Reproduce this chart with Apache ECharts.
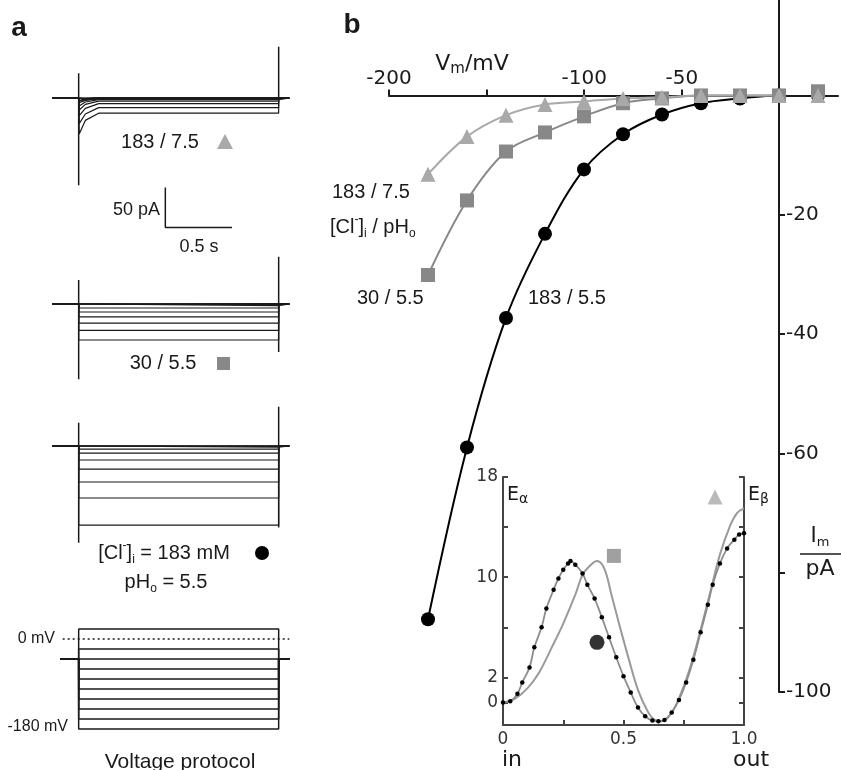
<!DOCTYPE html>
<html>
<head>
<meta charset="utf-8">
<script src="https://cdn.jsdelivr.net/npm/echarts@6/dist/echarts.min.js"></script>
<style>
  html, body { margin: 0; padding: 0; background: #fff; }
  #chart { width: 841px; height: 770px; }
</style>
</head>
<body>
<div id="chart"></div>
<script>
// ---- data ----

// test potentials (mV), same order for every array below
const voltages = [-180, -160, -140, -120, -100, -80, -60, -40, -20, 0, 20];

// panel b: steady-state current (pA) for [Cl-]i / pHo
const iv183_75 = [-13.2, -6.9, -3.3, -1.5, -1.0, -0.5, -0.3, 0, 0, 0, 0];
const iv30_55 = [-30.1, -17.6, -9.4, -6.2, -3.5, -1.3, -0.5, 0, 0, 0, 0.7];
const iv183_55 = [-87.8, -59, -37.3, -23.2, -12.4, -6.5, -3.2, -1.3, -0.5, 0, 0];

// panel a: current traces (pA), level during the pulse
const trace183_75 = [-19, -12, -7, -4, -2, -1, -0.5, 0, 0, 0, 0.5];
const onset183_75 = [-45, -32, -22, -15, -10, -6, -4, -3, -2, -1, 0];
const mid183_75 = [-28, -20, -13, -8, -5, -3, -2, -1.5, -1, -0.5, 0];
const trace30_55 = [-45, -33, -24, -16, -10, -5, -2, -0.5, 0, 0, 0.5];
const trace183_55 = [-99, -65, -45, -29, -17.5, -9, -4, -1.5, -0.5, 0, 0.3];

// capacitive transients: [on top, on bottom, off top, off bottom] (pA)
const spike183_75 = [31, -109, 64, -2];
const spike30_55 = [30, -94, 59, -60];
const spike183_55 = [29, -121, 49, -102];

// sweep timing (s): record start, pulse on, pulse off, record end
const sweepEdges = [-0.2, 0, 1.5, 1.58];
const timeOnset = [0.004, 0.05, 0.15];

// voltage protocol (mV)
const holdingPotential = -40;
const protocolSteps = [20, -20, -40, -60, -80, -100, -120, -140, -160, -180];
const holdingSpan = [-0.14, 1.58];

// scale bar
const scaleBarTime = 0.5;
const scaleBarCurrent = 50;

// inset: energy profiles across the pore (in -> out)
const profileDotX = [0, 0.03, 0.06, 0.08, 0.11, 0.13, 0.16, 0.18, 0.21, 0.23, 0.25, 0.27, 0.28, 0.30, 0.33, 0.35, 0.38, 0.41, 0.44, 0.47, 0.50, 0.53, 0.56, 0.59, 0.62, 0.645, 0.67, 0.70, 0.73, 0.76, 0.79, 0.82, 0.85, 0.87, 0.90, 0.93, 0.96, 0.98, 1.0];
const profileDotE = [0, 0.1, 0.7, 1.6, 2.8, 4.4, 6.0, 7.5, 9.0, 9.9, 10.6, 11.1, 11.3, 11.0, 10.3, 9.4, 8.3, 6.8, 5.2, 3.6, 2.1, 0.8, -0.4, -1.1, -1.45, -1.5, -1.4, -0.8, 0.2, 1.6, 3.4, 5.6, 7.8, 9.4, 11.1, 12.3, 13.0, 13.4, 13.5];
const profileLineX = [0, 0.05, 0.1, 0.15, 0.2, 0.25, 0.3, 0.33, 0.36, 0.39, 0.42, 0.45, 0.48, 0.52, 0.56, 0.6, 0.63, 0.66, 0.7, 0.74, 0.78, 0.82, 0.86, 0.9, 0.94, 0.97, 1.0];
const profileLineE = [0, 0.3, 1.1, 2.4, 4.3, 6.3, 8.6, 10.2, 10.9, 11.3, 10.7, 8.6, 6.4, 3.6, 1.0, -0.7, -1.4, -1.5, -0.8, 0.8, 3.0, 5.8, 8.8, 11.8, 14.0, 15.1, 15.5];
const insetSquare = [0.46, 11.7];
const insetCircle = [0.39, 4.8];
const insetTriangle = [0.88, 16.4];

// ---- styling ----
const SANS = 'Liberation Sans, Arial, sans-serif';
const DEJAVU = 'DejaVu Sans, Verdana, sans-serif';
const LIGHT = '#a9a9a9';
const MID = '#888888';
const INK = '#1a1a1a';

const chart = echarts.init(document.getElementById('chart'), null, { renderer: 'canvas' });

// grids: 0-2 current traces, 3 voltage protocol, 4 I-V (data + current axis),
// 5 inset, 6 I-V voltage axis (sits on the 0 pA line of grid 4)
const traceGrid = { left: 52, width: 240 };
const ivTop = 0, ivHeight = 692, ivMin = -100, ivMax = 16;
const ivZeroY = ivTop + ivHeight * ivMax / (ivMax - ivMin);
const grids = [
  { left: traceGrid.left, width: traceGrid.width, top: 46, height: 188 },
  { left: traceGrid.left, width: traceGrid.width, top: 252, height: 132 },
  { left: traceGrid.left, width: traceGrid.width, top: 394, height: 152 },
  { left: traceGrid.left, width: traceGrid.width, top: 626.5, height: 105 },
  { left: 389, width: 390, top: ivTop, height: ivHeight },
  { left: 503, width: 241, top: 477, height: 248 },
  { left: 389, width: 449, top: ivZeroY, height: 100 }
].map(function(g) { return Object.assign({ outerBoundsMode: 'none', containLabel: false }, g); });
const traceRanges = [[-170, 65], [-100, 65], [-125, 65], [-185, 25]];

const xAxes = [];
const yAxes = [];
traceRanges.forEach(function(r, i) {
  xAxes.push({ gridIndex: i, type: 'value', min: sweepEdges[0], max: 1.6, show: false });
  yAxes.push({ gridIndex: i, type: 'value', min: r[0], max: r[1], show: false });
});

// I-V: hidden voltage axis for the data, visible current axis at 0 mV
xAxes.push({ gridIndex: 4, type: 'value', min: -200, max: 0, show: false });
yAxes.push({
  gridIndex: 4, type: 'value', min: ivMin, max: ivMax, position: 'right',
  axisLine: { onZero: false, lineStyle: { color: INK, width: 2 } },
  axisTick: { customValues: [-20, -40, -60, -80, -100], length: 6, lineStyle: { color: INK, width: 2 } },
  axisLabel: { customValues: [-20, -40, -60, -100], fontFamily: DEJAVU, fontSize: 20, color: INK, margin: 7 },
  splitLine: { show: false }
});

// inset axes
const insetAxisLine = { onZero: false, lineStyle: { color: '#444', width: 2 } };
xAxes.push({
  gridIndex: 5, type: 'value', min: 0, max: 1, position: 'bottom',
  axisLine: insetAxisLine,
  axisTick: { inside: true, customValues: [0.25, 0.5, 0.75], length: 5, lineStyle: { color: '#444', width: 2 } },
  axisLabel: {
    customValues: [0, 0.5, 1], fontFamily: DEJAVU, fontSize: 17, color: '#333', margin: 6,
    formatter: function(v) { return v === 1 ? '1.0' : String(v); }
  },
  splitLine: { show: false }
});
const insetTicks = [0, 2, 6, 10, 14, 18];
yAxes.push({
  gridIndex: 5, type: 'value', min: -1.8, max: 18, position: 'left',
  axisLine: insetAxisLine,
  axisTick: { inside: true, customValues: insetTicks, length: 5, lineStyle: { color: '#444', width: 2 } },
  axisLabel: { customValues: [0, 2, 10, 18], fontFamily: DEJAVU, fontSize: 17, color: '#333', margin: 5 },
  splitLine: { show: false }
});
yAxes.push({
  gridIndex: 5, type: 'value', min: -1.8, max: 18, position: 'right',
  axisLine: insetAxisLine,
  axisTick: { inside: true, customValues: insetTicks, length: 5, lineStyle: { color: '#444', width: 2 } },
  axisLabel: { show: false },
  splitLine: { show: false }
});

// I-V voltage axis along the zero-current line
xAxes.push({
  gridIndex: 6, type: 'value', min: -200, max: 30, position: 'top',
  axisLine: { onZero: false, lineStyle: { color: INK, width: 2 } },
  axisTick: { customValues: [-200, -150, -100, -50], length: 6, lineStyle: { color: INK, width: 2 } },
  axisLabel: { customValues: [-200, -100, -50], fontFamily: DEJAVU, fontSize: 20, color: INK, margin: 7 },
  splitLine: { show: false }
});
yAxes.push({ gridIndex: 6, type: 'value', min: -10, max: 0, show: false });

const series = [];

function plainLine(axisIdx, yIdx, data, color, width, type) {
  return {
    type: 'line', xAxisIndex: axisIdx, yAxisIndex: yIdx, data: data,
    symbol: 'none', silent: true, clip: false, animation: false,
    lineStyle: { color: color, width: width, type: type || 'solid' }
  };
}

// panel a traces
function addTraces(idx, levels, spikes, onset, mid) {
  const t = sweepEdges;
  levels.forEach(function(lvl, i) {
    let pts = [[t[0], 0], [t[1], 0]];
    if (onset) {
      pts.push([timeOnset[0], onset[i]], [timeOnset[1], mid[i]], [timeOnset[2], lvl]);
    } else {
      pts.push([t[1], lvl]);
    }
    pts.push([t[2], lvl], [t[2], 0], [t[3], 0]);
    series.push(plainLine(idx, idx, pts, INK, 1.2));
  });
  series.push(plainLine(idx, idx, [[t[1], spikes[0]], [t[1], spikes[1]]], INK, 1.5));
  series.push(plainLine(idx, idx, [[t[2], spikes[2]], [t[2], spikes[3]]], INK, 1.5));
}
addTraces(0, trace183_75, spike183_75, onset183_75, mid183_75);
addTraces(1, trace30_55, spike30_55);
addTraces(2, trace183_55, spike183_55);

// scale bar in the first trace grid
const sbT = 0.65, sbI = -112;
series.push(plainLine(0, 0, [[sbT, sbI], [sbT, sbI - scaleBarCurrent], [sbT + scaleBarTime, sbI - scaleBarCurrent]], INK, 1.5));

// voltage protocol
protocolSteps.forEach(function(v) {
  series.push(plainLine(3, 3, [
    [holdingSpan[0], holdingPotential], [sweepEdges[1], holdingPotential], [sweepEdges[1], v],
    [sweepEdges[2], v], [sweepEdges[2], holdingPotential], [holdingSpan[1], holdingPotential]
  ], INK, 1.5));
});
series.push(plainLine(3, 3, [[-0.12, 0], [holdingSpan[1], 0]], INK, 1.3, [2, 3]));

// panel b: I-V relations
function ivSeries(vals, symbol, size, color) {
  return {
    type: 'line', xAxisIndex: 4, yAxisIndex: 4, smooth: 0.35, animation: false, clip: false,
    data: voltages.map(function(v, i) { return [v, vals[i]]; }),
    symbol: symbol, symbolSize: size,
    itemStyle: { color: color, borderWidth: 0 },
    lineStyle: { color: color, width: 2 }
  };
}
series.push(ivSeries(iv183_55, 'circle', 14, '#000'));
series.push(ivSeries(iv30_55, 'rect', 14, MID));
series.push(ivSeries(iv183_75, 'triangle', 15, LIGHT));

// inset energy profiles
series.push({
  type: 'line', xAxisIndex: 5, yAxisIndex: 5, smooth: 0.4, animation: false,
  data: profileLineX.map(function(x, i) { return [x, profileLineE[i]]; }),
  symbol: 'none', lineStyle: { color: '#9a9a9a', width: 2 }
});
series.push({
  type: 'line', xAxisIndex: 5, yAxisIndex: 5, smooth: 0.4, animation: false,
  data: profileDotX.map(function(x, i) { return [x, profileDotE[i]]; }),
  symbol: 'circle', symbolSize: 4.5, itemStyle: { color: '#000' },
  lineStyle: { color: '#8c8c8c', width: 1.8 }
});
series.push({ type: 'scatter', xAxisIndex: 5, yAxisIndex: 5, data: [insetSquare], symbol: 'rect', symbolSize: 14, itemStyle: { color: MID }, animation: false });
series.push({ type: 'scatter', xAxisIndex: 5, yAxisIndex: 5, data: [insetCircle], symbol: 'circle', symbolSize: 15, itemStyle: { color: '#000' }, animation: false });
series.push({ type: 'scatter', xAxisIndex: 5, yAxisIndex: 5, data: [insetTriangle], symbol: 'triangle', symbolSize: 15, itemStyle: { color: LIGHT }, animation: false });

// ---- text annotations ----
function label(text, x, y, opts) {
  opts = opts || {};
  return {
    type: 'text', x: x, y: y, silent: true, z: 100,
    style: {
      text: text, fill: opts.color || INK,
      fontFamily: opts.family || SANS, fontSize: opts.size || 20,
      fontWeight: opts.weight || 'normal',
      textAlign: opts.align || 'center', textVerticalAlign: 'middle',
      rich: opts.rich
    }
  };
}
function richSans(size) {
  return {
    n: { fontFamily: SANS, fontSize: size, fill: INK, lineHeight: 26 },
    sup: { fontFamily: SANS, fontSize: size - 8, fill: INK, verticalAlign: 'top', lineHeight: 26 },
    sub: { fontFamily: SANS, fontSize: size - 8, fill: INK, verticalAlign: 'bottom', lineHeight: 22 }
  };
}
function richSub(family, size, subSize) {
  return {
    v: { fontFamily: family, fontSize: size, fill: INK, lineHeight: size + 4 },
    m: { fontFamily: family, fontSize: subSize, fill: INK, verticalAlign: 'bottom', lineHeight: size },
    s: { fontFamily: family, fontSize: size, fill: INK, lineHeight: size + 4 }
  };
}

const graphics = [
  label('a', 19, 28, { size: 28, weight: 'bold' }),
  label('b', 352, 25, { size: 28, weight: 'bold' }),

  label('183 / 7.5', 160, 142),
  { type: 'polygon', shape: { points: [[225, 134], [217, 149], [233, 149]] }, style: { fill: LIGHT } },
  label('50 pA', 160, 210, { size: 18, align: 'right' }),
  label('0.5 s', 199, 247, { size: 18 }),
  label('30 / 5.5', 163, 363),
  { type: 'rect', shape: { x: 217, y: 357, width: 13, height: 13 }, style: { fill: MID } },
  label('{n|[Cl}{sup|-}{n|]}{sub|i}{n| = 183 mM}', 164, 553, { rich: richSans(20) }),
  { type: 'circle', shape: { cx: 262, cy: 553, r: 7 }, style: { fill: '#000' } },
  label('{n|pH}{sub|o}{n| = 5.5}', 166, 582, { rich: richSans(20) }),
  label('0 mV', 55, 639, { size: 16, align: 'right' }),
  label('-180 mV', 68, 727, { size: 16, align: 'right' }),
  label('Voltage protocol', 180, 762, { size: 21 }),

  label('{v|V}{m|m}{s|/mV}', 472, 64, { rich: richSub(DEJAVU, 22, 15) }),
  label('183 / 7.5', 332, 192, { align: 'left' }),
  label('{n|[Cl}{sup|-}{n|]}{sub|i}{n| / pH}{sub|o}', 330, 227, { align: 'left', rich: richSans(20) }),
  label('30 / 5.5', 357, 298, { align: 'left' }),
  label('183 / 5.5', 528, 298, { align: 'left' }),

  label('{v|I}{m|m}', 820, 537, { rich: richSub(DEJAVU, 21, 13) }),
  { type: 'line', shape: { x1: 800, y1: 554, x2: 841, y2: 554 }, style: { stroke: INK, lineWidth: 1.5 } },
  label('pA', 820, 569, { family: DEJAVU, size: 22 }),

  label('{v|E}{m|α}', 507, 495, { align: 'left', rich: richSub(DEJAVU, 19, 14) }),
  label('{v|E}{m|β}', 748, 495, { align: 'left', rich: richSub(DEJAVU, 19, 14) }),
  label('in', 502, 760, { family: DEJAVU, size: 22, align: 'left' }),
  label('out', 751, 760, { family: DEJAVU, size: 22 })
];

chart.setOption({
  animation: false,
  backgroundColor: '#fff',
  grid: grids,
  xAxis: xAxes,
  yAxis: yAxes,
  series: series,
  graphic: graphics
});
</script>
</body>
</html>
